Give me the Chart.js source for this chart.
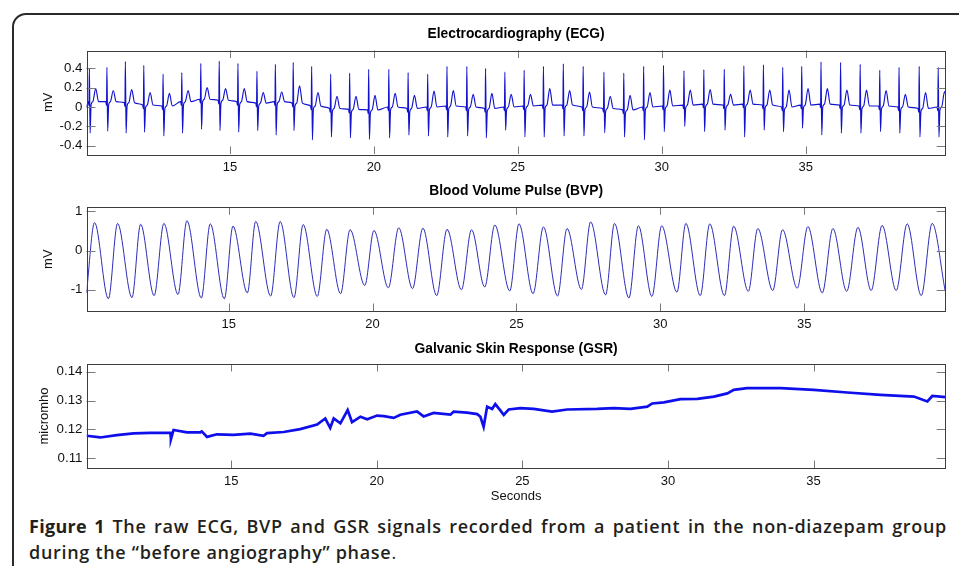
<!DOCTYPE html>
<html><head><meta charset="utf-8">
<script src="https://cdn.jsdelivr.net/npm/chart.js@4.4.1/dist/chart.umd.min.js"></script>
<style>
html,body{margin:0;padding:0;background:#fff;width:959px;height:566px;overflow:hidden;}
#frame{position:absolute;left:12px;top:13px;width:1000px;height:620px;border:2px solid #2a2a2a;border-radius:14px;box-sizing:border-box;}
canvas{position:absolute;left:0;}
.cap{position:absolute;left:29px;width:918px;font-family:'Open Sans',sans-serif;font-weight:600;font-size:18px;line-height:26px;color:#231f20;letter-spacing:0.7px;}
#cap1{top:513px;text-align:justify;text-align-last:justify;}
#cap2{top:539px;white-space:nowrap;}
.cap b{font-weight:700;letter-spacing:0.3px;}
.cap .dot{font-weight:400;}
</style></head>
<body>
<div id="frame"></div>
<canvas id="ecg" width="959" height="180" style="top:0px;width:959px;height:180px"></canvas>
<canvas id="bvp" width="959" height="155" style="top:180px;width:959px;height:155px"></canvas>
<canvas id="gsr" width="959" height="175" style="top:335px;width:959px;height:175px"></canvas>
<div class="cap" id="cap1"><b>Figure 1</b> The raw ECG, BVP and GSR signals recorded from a patient in the non-diazepam group</div>
<div class="cap" id="cap2">during the “before angiography” phase<span class="dot">.</span></div>
<script>
// ---------- DATA ----------
const timeTicks = [15, 20, 25, 30, 35];
const ecgYTicks = [-0.4, -0.2, 0, 0.2, 0.4];
const bvpYTicks = [-1, 0, 1];
const gsrYTicks = [0.11, 0.12, 0.13, 0.14];

// ECG: one entry per heart beat (R-peak time, R height, S depth, T-wave peak, baseline level)
const ecgBeatTimes = [10.12,10.73,11.37,12.01,12.68,13.33,13.99,14.63,15.28,15.94,16.58,17.20,17.84,18.50,19.16,19.82,20.52,21.19,21.87,22.54,23.23,23.88,24.55,25.22,25.89,26.58,27.27,27.99,28.68,29.37,30.06,30.77,31.46,32.17,32.85,33.53,34.20,34.86,35.53,36.21,36.89,37.57,38.24,38.94,39.60];
const ecgRPeaks = [0.40,0.41,0.47,0.43,0.34,0.355,0.45,0.475,0.45,0.37,0.44,0.46,0.42,0.34,0.35,0.39,0.39,0.355,0.34,0.42,0.42,0.40,0.36,0.38,0.42,0.445,0.42,0.36,0.35,0.42,0.43,0.375,0.385,0.39,0.425,0.435,0.41,0.42,0.465,0.46,0.44,0.38,0.41,0.42,0.41];
const ecgSTroughs = [-0.27,-0.25,-0.27,-0.26,-0.30,-0.27,-0.23,-0.245,-0.26,-0.245,-0.29,-0.245,-0.34,-0.31,-0.32,-0.335,-0.32,-0.29,-0.30,-0.31,-0.30,-0.32,-0.24,-0.31,-0.31,-0.30,-0.30,-0.265,-0.31,-0.34,-0.255,-0.20,-0.255,-0.24,-0.31,-0.24,-0.255,-0.22,-0.29,-0.27,-0.27,-0.255,-0.27,-0.31,-0.31];
const ecgTWaves = [0.19,0.17,0.18,0.15,0.14,0.17,0.20,0.19,0.19,0.15,0.155,0.22,0.15,0.11,0.11,0.12,0.14,0.12,0.165,0.17,0.13,0.14,0.13,0.13,0.19,0.17,0.155,0.11,0.12,0.15,0.175,0.175,0.18,0.13,0.175,0.175,0.175,0.19,0.19,0.175,0.175,0.17,0.13,0.15,0.16];
const ecgBaseline = [0.055,0.055,0.045,0.02,0.01,0.055,0.08,0.07,0.055,0.04,0.055,0.04,0.01,-0.015,-0.025,-0.03,0,-0.015,0,0.01,0,-0.015,0,0.01,0.02,0.02,0,-0.015,-0.03,0,0.01,0.02,0.03,0.02,0.03,0.02,0,0.02,0.03,0.02,0.01,0.01,0,-0.015,0];
const ecgStart = [10.02, 0.0];
// beat morphology timing (seconds relative to R peak)
const ecgBeatOffsets = {pre:-0.04, q:-0.015, s:0.025, j:0.06, st:0.12, t:0.22, tEnd:0.32};

// BVP: pulse peaks and troughs
const bvpPeakTimes = [10.34,11.14,11.94,12.75,13.55,14.36,15.15,15.94,16.79,17.59,18.41,19.22,20.05,20.91,21.75,22.59,23.44,24.25,25.09,25.94,26.76,27.58,28.41,29.24,30.05,30.89,31.72,32.55,33.39,34.25,35.13,36.00,36.87,37.71,38.58,39.45];
const bvpPeakValues = [0.71,0.69,0.67,0.69,0.76,0.68,0.62,0.74,0.74,0.66,0.54,0.53,0.51,0.58,0.57,0.54,0.53,0.65,0.68,0.60,0.56,0.73,0.69,0.63,0.63,0.69,0.68,0.62,0.56,0.53,0.61,0.56,0.59,0.64,0.68,0.69];
const bvpTroughTimes = [10.06,10.82,11.64,12.41,13.24,14.05,14.85,15.65,16.46,17.27,18.08,18.89,19.73,20.55,21.39,22.23,23.09,23.90,24.77,25.58,26.43,27.26,28.10,28.91,29.71,30.58,31.39,32.23,33.06,33.91,34.76,35.63,36.48,37.33,38.20,39.07,39.90];
const bvpTroughValues = [-1.08,-1.23,-1.20,-1.15,-1.12,-1.21,-1.23,-1.08,-1.16,-1.20,-1.17,-1.10,-0.89,-0.95,-0.97,-1.15,-1.00,-0.93,-1.03,-1.10,-1.16,-0.99,-1.13,-1.21,-1.17,-1.06,-1.15,-1.15,-1.04,-1.02,-0.96,-1.08,-1.04,-1.02,-1.02,-1.15,-1.02];

// GSR
const gsrTimes = [10.03,10.50,11.07,11.65,12.22,12.79,12.91,12.93,13.02,13.48,13.94,13.99,14.17,14.51,15.08,15.66,16.11,16.23,16.80,17.37,17.95,18.23,18.40,18.52,18.75,19.00,19.15,19.44,19.67,20.01,20.24,20.58,20.81,21.38,21.61,21.95,22.53,22.64,23.10,23.45,23.56,23.67,23.79,23.96,24.07,24.25,24.36,24.53,24.93,25.39,26.02,26.54,27.57,28.14,28.71,29.29,29.46,29.86,30.43,31.01,31.58,32.04,32.26,32.72,33.87,35.01,36.16,37.30,38.45,38.91,39.08,39.54];
const gsrValues = [0.1178,0.1172,0.1180,0.1186,0.1188,0.1188,0.1188,0.1166,0.1198,0.1190,0.1190,0.1193,0.1174,0.1183,0.1181,0.1185,0.1178,0.1187,0.1191,0.1201,0.1217,0.1238,0.1205,0.1238,0.1221,0.1267,0.1225,0.1244,0.1235,0.1248,0.1246,0.1240,0.1251,0.1262,0.1245,0.1257,0.1251,0.1262,0.1258,0.1253,0.1244,0.1209,0.1279,0.1271,0.1288,0.1265,0.1250,0.1269,0.1274,0.1271,0.1262,0.1269,0.1271,0.1274,0.1271,0.1279,0.1290,0.1294,0.1305,0.1306,0.1314,0.1325,0.1337,0.1343,0.1343,0.1337,0.1328,0.1320,0.1314,0.1297,0.1316,0.1312];

// ---------- build point lists from the arrays ----------
const ecgPoints = [{x: ecgStart[0], y: ecgStart[1]}];
ecgBeatTimes.forEach((t, i) => {
  const b = ecgBaseline[i], o = ecgBeatOffsets;
  ecgPoints.push({x: t + o.pre, y: b});
  ecgPoints.push({x: t + o.q, y: b - 0.04});
  ecgPoints.push({x: t, y: ecgRPeaks[i]});
  ecgPoints.push({x: t + o.s, y: ecgSTroughs[i]});
  ecgPoints.push({x: t + o.j, y: b - 0.03});
  ecgPoints.push({x: t + o.st, y: b});
  ecgPoints.push({x: t + o.t, y: ecgTWaves[i]});
  ecgPoints.push({x: t + o.tEnd, y: b});
});

const bvpPoints = bvpPeakTimes.map((t, i) => ({x: t, y: bvpPeakValues[i]}))
  .concat(bvpTroughTimes.map((t, i) => ({x: t, y: bvpTroughValues[i]})))
  .sort((a, b) => a.x - b.x);

const gsrPoints = gsrTimes.map((t, i) => ({x: t, y: gsrValues[i]}));

// ---------- drawing ----------
const FONT = 'Liberation Sans, Arial, Helvetica, sans-serif';

const boxPlugin = {
  id: 'matlabBox',
  afterDatasetsDraw(chart, args, opts) {
    const {ctx, chartArea: a, scales: {x, y}} = chart;
    ctx.save();
    ctx.lineWidth = 1;
    ctx.strokeStyle = '#7a7a7a';
    ctx.beginPath();
    x.ticks.forEach(t => {
      const px = Math.round(x.getPixelForValue(t.value)) + 0.5;
      ctx.moveTo(px, a.bottom); ctx.lineTo(px, a.bottom - 7.5);
      ctx.moveTo(px, a.top); ctx.lineTo(px, a.top + 7.5);
    });
    y.ticks.forEach(t => {
      const py = Math.round(y.getPixelForValue(t.value)) + 0.5;
      ctx.moveTo(a.left, py); ctx.lineTo(a.left + 9, py);
      ctx.moveTo(a.right, py); ctx.lineTo(a.right - 9, py);
    });
    ctx.stroke();
    ctx.strokeStyle = '#3c3c3c';
    ctx.strokeRect(Math.round(a.left) + 0.5, Math.round(a.top) + 0.5, Math.round(a.right - a.left) - 1, Math.round(a.bottom - a.top));
    // subplot title, centred over the axes box
    ctx.fillStyle = '#000';
    ctx.font = 'bold 13.8px ' + FONT;
    ctx.textAlign = 'center';
    ctx.textBaseline = 'middle';
    ctx.fillText(opts.text, (a.left + a.right) / 2, opts.y);
    ctx.restore();
  }
};

function makeChart(id, cfg) {
  return new Chart(document.getElementById(id), {
    type: 'line',
    data: {datasets: [{
      data: cfg.points,
      borderColor: cfg.color,
      borderWidth: cfg.width,
      pointRadius: 0,
      cubicInterpolationMode: cfg.smooth ? 'monotone' : 'default',
      tension: 0,
      fill: false
    }]},
    options: {
      responsive: false,
      animation: false,
      devicePixelRatio: 1,
      events: [],
      layout: {padding: {left: 0, right: 13.3, top: cfg.top, bottom: 0}},
      plugins: {
        legend: {display: false},
        tooltip: {enabled: false},
        title: {display: false},
        matlabBox: {text: cfg.title, y: cfg.titleY}
      },
      scales: {
        x: {
          type: 'linear', min: cfg.xMin, max: cfg.xMax,
          afterBuildTicks: s => { s.ticks = timeTicks.map(v => ({value: v})); },
          afterFit: s => { s.height = cfg.xHeight; },
          grid: {display: false, drawTicks: false},
          border: {display: false},
          ticks: {padding: 6, color: '#111', font: {family: FONT, size: 13}, maxRotation: 0, autoSkip: false, callback: v => String(v)},
          title: cfg.xTitle ? {display: true, text: cfg.xTitle, color: '#111', font: {family: FONT, size: 13, lineHeight: 1.2}, padding: {top: 0, bottom: 6}} : {display: false}
        },
        y: {
          type: 'linear', min: cfg.yMin, max: cfg.yMax,
          afterBuildTicks: s => { s.ticks = cfg.yTicks.map(v => ({value: v})); },
          afterFit: s => { s.width = 86.5; },
          grid: {display: false, drawTicks: false},
          border: {display: false},
          ticks: {padding: 4, color: '#111', font: {family: FONT, size: 13.3}, autoSkip: false, callback: v => String(+v.toFixed(2))},
          title: {display: true, text: cfg.yTitle, color: '#111', font: {family: FONT, size: 13, lineHeight: 1.2}, padding: {top: cfg.yTitlePad, bottom: 0}}
        }
      }
    },
    plugins: [boxPlugin]
  });
}

makeChart('ecg', {
  points: ecgPoints, color: 'rgb(18,18,205)', width: 1.15, smooth: true,
  title: 'Electrocardiography (ECG)', titleY: 34.3, top: 50.5,
  xMin: 10.02, xMax: 39.86, xHeight: 26,
  yMin: -0.486, yMax: 0.584, yTicks: ecgYTicks, yTitle: 'mV', yTitlePad: 40.5
});
makeChart('bvp', {
  points: bvpPoints, color: 'rgb(45,45,185)', width: 1, smooth: true,
  title: 'Blood Volume Pulse (BVP)', titleY: 11.2, top: 27.3,
  xMin: 10.06, xMax: 39.92, xHeight: 24,
  yMin: -1.54, yMax: 1.10, yTicks: bvpYTicks, yTitle: 'mV', yTitlePad: 40.5
});
makeChart('gsr', {
  points: gsrPoints, color: 'rgb(15,15,235)', width: 2.7, smooth: false,
  title: 'Galvanic Skin Response (GSR)', titleY: 14, top: 29,
  xMin: 10.03, xMax: 39.54, xHeight: 42, xTitle: 'Seconds',
  yMin: 0.1066, yMax: 0.1427, yTicks: gsrYTicks, yTitle: 'micromho', yTitlePad: 37
});
</script>
</body></html>
